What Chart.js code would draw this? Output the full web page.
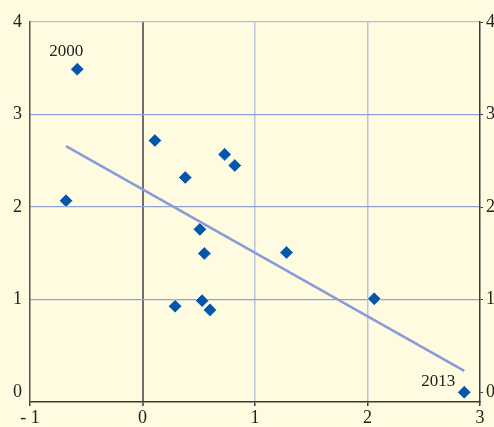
<!DOCTYPE html>
<html>
<head>
<meta charset="utf-8">
<script src="https://cdn.jsdelivr.net/npm/chart.js@4/dist/chart.umd.min.js"></script>
<style>
  html, body { margin: 0; padding: 0; background: #fefbe1; overflow: hidden; }
  #wrap { width: 494px; height: 427px; overflow: hidden; }
  canvas { display: block; }
</style>
</head>
<body>
<div id="wrap"><canvas id="c" width="510" height="427"></canvas></div>
<script>
// scatter points (years 2000..2013)
const xVals = [-0.58, -0.68, 0.11, 0.38, 0.73, 0.82, 0.51, 0.55, 1.28, 0.29, 0.53, 0.60, 2.06, 2.86];
const yVals = [3.49, 2.07, 2.72, 2.32, 2.57, 2.45, 1.76, 1.50, 1.51, 0.93, 0.99, 0.89, 1.01, 0.00];
const pointNames = ['2000', '', '', '', '', '', '', '', '', '', '', '', '', '2013'];

// fitted line ends
const trendX = [-0.68, 2.86];
const trendY = [2.66, 0.23];

const xTicks = [-1, 0, 1, 2, 3];
const yTicks = [0, 1, 2, 3, 4];

const serif = '"Liberation Serif", "DejaVu Serif", serif';
const txt = '#222';

const pts = xVals.map((x, i) => ({ x, y: yVals[i] }));
const trend = trendX.map((x, i) => ({ x, y: trendY[i] }));

const setTicks = list => s => { s.ticks = list.map(v => ({ value: v })); };

const yearLabels = {
  id: 'yearLabels',
  afterDatasetsDraw(chart) {
    const { ctx, scales } = chart;
    ctx.save();
    ctx.font = '17px ' + serif;
    ctx.fillStyle = txt;
    pointNames.forEach((n, i) => {
      if (!n) return;
      const px = scales.x.getPixelForValue(xVals[i]);
      const py = scales.y.getPixelForValue(yVals[i]);
      if (i === 0) {
        ctx.textAlign = 'center';
        ctx.textBaseline = 'bottom';
        ctx.fillText(n, px - 11, py - 9);
      } else {
        ctx.textAlign = 'right';
        ctx.textBaseline = 'bottom';
        ctx.fillText(n, px - 9, py - 2);
      }
    });
    ctx.restore();
  }
};

new Chart(document.getElementById('c'), {
  type: 'scatter',
  data: {
    datasets: [
      {
        data: pts,
        order: 0,
        pointStyle: 'rectRot',
        pointRadius: 6.8,
        pointHoverRadius: 6.8,
        backgroundColor: '#0656a8',
        borderColor: '#ffffff',
        borderWidth: 0.8
      },
      {
        type: 'line',
        data: trend,
        order: 1,
        borderColor: '#8b9bd8',
        borderWidth: 2.6,
        pointRadius: 0,
        fill: false
      }
    ]
  },
  options: {
    responsive: false,
    animation: false,
    devicePixelRatio: 1,
    layout: { padding: { top: 22, left: 0, right: 0, bottom: 0 } },
    plugins: { legend: { display: false }, tooltip: { enabled: false } },
    scales: {
      x: {
        type: 'linear',
        min: -1, max: 3,
        afterBuildTicks: setTicks(xTicks),
        afterFit: s => { s.height = 25; },
        border: { display: true, color: '#3a3a3a', width: 1.5 },
        grid: {
          color: c => {
            const v = c.tick ? c.tick.value : null;
            if (v === 0) return '#6e6e6e';
            if (v === -1 || v === 3) return 'rgba(0,0,0,0)';
            return '#bcc4dc';
          },
          lineWidth: c => (c.tick && c.tick.value === 0) ? 2 : 1.5,
          tickColor: '#3a3a3a',
          tickLength: 4,
          tickWidth: 1.5
        },
        ticks: {
          font: { family: serif, size: 18 },
          color: txt,
          padding: 1,
          maxRotation: 0,
          callback: v => v < 0 ? '- ' + Math.abs(v) : String(v)
        }
      },
      y: {
        type: 'linear',
        position: 'left',
        min: -0.105, max: 4,
        afterBuildTicks: setTicks(yTicks),
        afterFit: s => { s.width = 30; },
        border: { display: true, color: '#555', width: 1.5 },
        grid: {
          color: c => {
            const v = c.tick ? c.tick.value : null;
            if (v === 0) return 'rgba(0,0,0,0)';
            if (v === 4) return '#b2bdd9';
            return '#8ea0d8';
          },
          lineWidth: 1.3,
          drawTicks: false
        },
        ticks: {
          font: { family: serif, size: 18 },
          color: txt,
          padding: 8
        }
      },
      y2: {
        type: 'linear',
        position: 'right',
        min: -0.105, max: 4,
        afterBuildTicks: setTicks(yTicks),
        afterFit: s => { s.width = 30; },
        border: { display: true, color: '#3a3a3a', width: 1.5 },
        grid: {
          drawOnChartArea: false,
          tickColor: '#3a3a3a',
          tickLength: 3
        },
        ticks: {
          font: { family: serif, size: 18 },
          color: txt,
          padding: 3
        }
      }
    }
  },
  plugins: [yearLabels]
});
</script>
</body>
</html>
